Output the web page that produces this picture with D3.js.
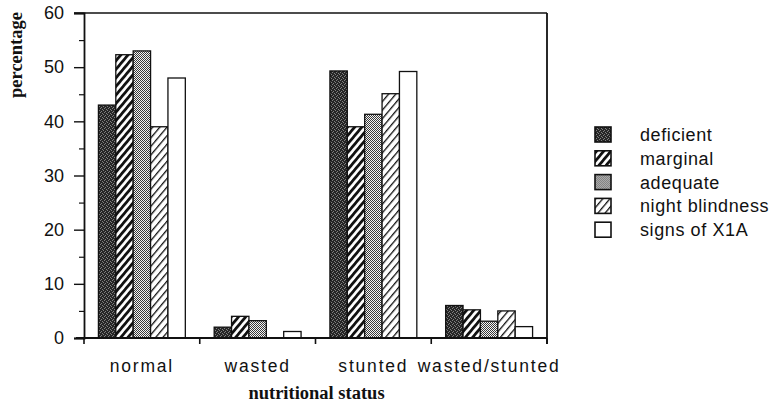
<!DOCTYPE html>
<html><head><meta charset="utf-8">
<script src="https://cdn.jsdelivr.net/npm/d3@7"></script>
<style>body{margin:0;background:#fff}svg{display:block}</style>
</head><body>
<svg id="c" width="778" height="406"></svg>
<script>
const categories = ["normal","wasted","stunted","wasted/stunted"];
const series = ["deficient","marginal","adequate","night blindness","signs of X1A"];
const deficient = [43, 2, 49.3, 6];
const marginal = [52.3, 4, 39, 5.2];
const adequate = [53, 3.2, 41.3, 3.1];
const nightBlindness = [39, 0, 45.1, 5];
const signsX1A = [48, 1.2, 49.2, 2.1];
const yTicks = [0,10,20,30,40,50,60];
const yMinor = [5,15,25,35,45,55];

const values = [deficient, marginal, adequate, nightBlindness, signsX1A];
const fills = ["url(#pDef)","url(#pMar)","url(#pAde)","url(#pNig)","#fff"];

const svg = d3.select("#c");
const defs = svg.append("defs");
// deficient: dark stipple
const p1 = defs.append("pattern").attr("id","pDef").attr("patternUnits","userSpaceOnUse").attr("width",4).attr("height",4);
p1.append("rect").attr("width",4).attr("height",4).attr("fill","#262626");
[[0,0],[2,1],[1,3],[3,2]].forEach(([a,b])=>p1.append("rect").attr("x",a).attr("y",b).attr("width",1).attr("height",1).attr("fill","#808080"));
// marginal: bold diagonal stripes
const p2 = defs.append("pattern").attr("id","pMar").attr("patternUnits","userSpaceOnUse").attr("width",5.5).attr("height",10).attr("patternTransform","rotate(40)");
p2.append("rect").attr("width",5.5).attr("height",10).attr("fill","#fff");
p2.append("rect").attr("width",2.8).attr("height",10).attr("fill","#111");
// adequate: fine dither
const p3 = defs.append("pattern").attr("id","pAde").attr("patternUnits","userSpaceOnUse").attr("width",2).attr("height",2);
p3.append("rect").attr("width",2).attr("height",2).attr("fill","#f4f4f4");
p3.append("rect").attr("x",0).attr("y",0).attr("width",1).attr("height",1).attr("fill","#3a3a3a");
p3.append("rect").attr("x",1).attr("y",1).attr("width",1).attr("height",1).attr("fill","#3a3a3a");
// night blindness: thin diagonal lines
const p4 = defs.append("pattern").attr("id","pNig").attr("patternUnits","userSpaceOnUse").attr("width",5.5).attr("height",10).attr("patternTransform","rotate(40)");
p4.append("rect").attr("width",5.5).attr("height",10).attr("fill","#fff");
p4.append("rect").attr("width",1.3).attr("height",10).attr("fill","#111");

const L = 84, R = 547, T = 13, B = 338;
const x0 = d3.scaleBand().domain(categories).range([L, R]).paddingInner(0).paddingOuter(0);
const x1 = d3.scaleBand().domain(series).range([0, x0.bandwidth()]).paddingInner(0).paddingOuter(0.83);
const y = d3.scaleLinear().domain([0,60]).range([B, T]);

// bars
const g = svg.append("g");
categories.forEach((c,ci)=>{
  series.forEach((s,si)=>{
    const v = values[si][ci];
    g.append("rect")
      .attr("x", x0(c)+x1(s)).attr("width", x1.bandwidth())
      .attr("y", y(v)).attr("height", B - y(v))
      .attr("fill", fills[si]).attr("stroke","#111").attr("stroke-width", v>0?1.3:0);
  });
});

// frame
const lc = "#111";
svg.append("line").attr("x1",74).attr("x2",R).attr("y1",y(60)).attr("y2",y(60)).attr("stroke",lc).attr("stroke-width",1.5);
svg.append("line").attr("x1",R).attr("x2",R).attr("y1",T).attr("y2",B+6).attr("stroke",lc).attr("stroke-width",1.8);

// y axis
const yAxis = d3.axisLeft(y).tickValues(yTicks).tickSize(10).tickPadding(10).tickFormat(d3.format("d"));
const ya = svg.append("g").attr("transform",`translate(${L},0)`).call(yAxis);
ya.select(".domain").attr("stroke",lc).attr("stroke-width",1.8);
ya.selectAll(".tick line").attr("stroke",lc).attr("stroke-width",1.4);
ya.selectAll(".tick text").attr("font-family","Liberation Sans, Arial, sans-serif").attr("font-size",18).attr("fill","#111");
const yMinorAxis = d3.axisLeft(y).tickValues(yMinor).tickSize(5).tickFormat("");
const ym = svg.append("g").attr("transform",`translate(${L},0)`).call(yMinorAxis);
ym.select(".domain").remove();
ym.selectAll(".tick line").attr("stroke",lc).attr("stroke-width",1.2);

// x axis
const xb = svg.append("g").attr("transform",`translate(0,${B})`);
xb.append("line").attr("x1",76).attr("x2",R).attr("stroke",lc).attr("stroke-width",1.8);
const bounds = categories.map(c=>x0(c)).concat([R]);
xb.selectAll(".bt").data(bounds).join("line").attr("x1",d=>d).attr("x2",d=>d).attr("y1",0).attr("y2",6).attr("stroke",lc).attr("stroke-width",1.6);
xb.selectAll(".cl").data(categories).join("text")
  .attr("x",d=>x0(d)+x0.bandwidth()/2).attr("y",34)
  .attr("text-anchor","middle").attr("font-family","Liberation Sans, Arial, sans-serif")
  .attr("font-size",17.5).attr("letter-spacing",1.8).attr("fill","#111").text(d=>d);

// axis titles
svg.append("text").attr("transform","translate(22,55) rotate(-90)").attr("text-anchor","middle")
  .attr("font-family","Liberation Serif, Times New Roman, serif").attr("font-weight","bold").attr("font-size",18.5).attr("fill","#111").text("percentage");
svg.append("text").attr("x",(L+R)/2+1).attr("y",399).attr("text-anchor","middle")
  .attr("font-family","Liberation Serif, Times New Roman, serif").attr("font-weight","bold").attr("font-size",18.5).attr("fill","#111").text("nutritional status");

// legend
const lg = svg.append("g").attr("transform","translate(595,127)");
series.forEach((s,i)=>{
  const row = lg.append("g").attr("transform",`translate(0,${i*23.8})`);
  row.append("rect").attr("width",16).attr("height",15).attr("fill",fills[i]).attr("stroke","#111").attr("stroke-width",1.6);
  row.append("text").attr("x",45).attr("y",14).attr("font-family","Liberation Sans, Arial, sans-serif")
    .attr("font-size",18).attr("letter-spacing",0.6).attr("fill","#111").text(s);
});
</script>
</body></html>
